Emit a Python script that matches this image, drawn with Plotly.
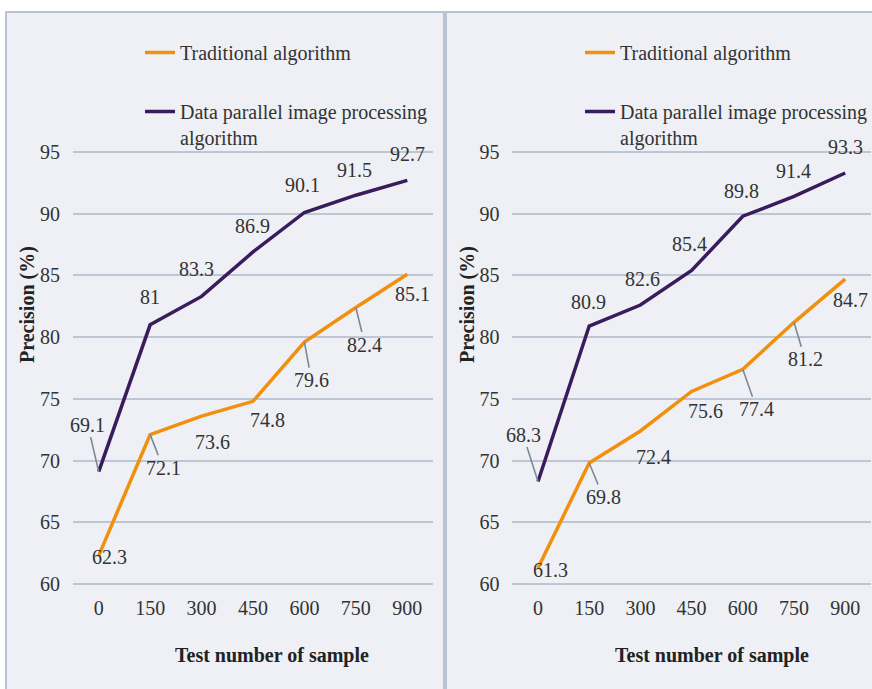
import plotly.graph_objects as go

# Test sample counts (category axis)
samples = ["0", "150", "300", "450", "600", "750", "900"]

# Panel 1 precision values (%)
left_traditional = [62.3, 72.1, 73.6, 74.8, 79.6, 82.4, 85.1]
left_parallel = [69.1, 81, 83.3, 86.9, 90.1, 91.5, 92.7]

# Panel 2 precision values (%)
right_traditional = [61.3, 69.8, 72.4, 75.6, 77.4, 81.2, 84.7]
right_parallel = [68.3, 80.9, 82.6, 85.4, 89.8, 91.4, 93.3]

series_names = ["Traditional algorithm", "Data parallel image processing<br>algorithm"]
y_ticks = [60, 65, 70, 75, 80, 85, 90, 95]

# Styling
W, H = 872, 689
ORANGE = "#f0900c"
PURPLE = "#3a1b5c"
GRID = "#bdc6d4"
PANEL_BG = "#eef0f5"
BORDER = "#bac3d0"
TEXT = "#333333"
LEADER = "#7b889a"
FONT = "Liberation Serif"
FS = 20

# Label offsets (px) from each point, and whether a leader line is drawn
left_trad_off = [(11, 1, False), (13, 33, True), (11, 26, False), (14, 19, False),
                 (7, 38, True), (9, 37, True), (5, 20, False)]
left_par_off = [(-11, -47, True), (0, -28, False), (-5, -27, False), (-1, -26, False),
                (-2, -27, False), (-1, -25, False), (0, -26, False)]
right_trad_off = [(12, 2, False), (14, 34, True), (13, 26, False), (14, 20, False),
                  (14, 40, True), (11, 37, True), (5, 21, False)]
right_par_off = [(-15, -47, True), (-1, -24, False), (2, -26, False), (-2, -26, False),
                 (-1, -25, False), (-1, -25, False), (0, -26, False)]

fig = go.Figure()

panels = [
    dict(xa="x", ya="y", trad=left_traditional, par=left_parallel,
         toff=left_trad_off, poff=left_par_off, legend="legend"),
    dict(xa="x2", ya="y2", trad=right_traditional, par=right_parallel,
         toff=right_trad_off, poff=right_par_off, legend="legend2"),
]

annotations = []
for p in panels:
    for name, vals, color, grp in [(series_names[0], p["trad"], ORANGE, "a"),
                                   (series_names[1], p["par"], PURPLE, "b")]:
        fig.add_trace(go.Scatter(
            x=samples, y=vals, mode="lines", name=name,
            line=dict(color=color, width=3.5),
            xaxis=p["xa"], yaxis=p["ya"], legend=p["legend"], legendgroup=grp,
            hoverinfo="skip",
        ))
    for vals, offs in [(p["trad"], p["toff"]), (p["par"], p["poff"])]:
        for i, (v, (dx, dy, lead)) in enumerate(zip(vals, offs)):
            a = dict(x=i, y=v, xref=p["xa"], yref=p["ya"], text=f"{v:g}",
                     font=dict(family=FONT, size=FS, color=TEXT))
            if lead:
                a.update(showarrow=True, ax=dx, ay=dy, arrowhead=0,
                         arrowwidth=1.6, arrowcolor=LEADER, standoff=0)
            else:
                a.update(showarrow=False, xshift=dx, yshift=-dy,
                         xanchor="center", yanchor="middle")
            annotations.append(a)

# Axis titles
for xc, yc_x in [(272, 28), (712, 468)]:
    annotations.append(dict(x=xc / W, y=1 - 655 / H, xref="paper", yref="paper",
                            xanchor="center", yanchor="middle",
                            text="<b>Test number of sample</b>", showarrow=False,
                            font=dict(family=FONT, size=FS, color="#222222")))
    annotations.append(dict(x=yc_x / W, y=1 - 305 / H, xref="paper", yref="paper",
                            xanchor="center", yanchor="middle",
                            text="<b>Precision (%)</b>", textangle=-90, showarrow=False,
                            font=dict(family=FONT, size=FS, color="#222222")))

# Panel backgrounds
shapes = [
    dict(type="rect", xref="paper", yref="paper", x0=6 / W, x1=444 / W,
         y0=-0.02, y1=1 - 12 / H, fillcolor=PANEL_BG,
         line=dict(color=BORDER, width=2), layer="below"),
    dict(type="rect", xref="paper", yref="paper", x0=446 / W, x1=1.02,
         y0=-0.02, y1=1 - 12 / H, fillcolor=PANEL_BG,
         line=dict(color=BORDER, width=2), layer="below"),
]

# Value range padded slightly so the 60 and 95 gridlines are drawn
y_range = [59.8, 95.2]
px_per_unit = (584 - 152) / 35
y_dom = [1 - (584 + 0.2 * px_per_unit) / H, 1 - (152 - 0.2 * px_per_unit) / H]

axis_common = dict(tickfont=dict(family=FONT, size=FS, color=TEXT), showline=False,
                   zeroline=False, automargin=False)
xcommon = dict(axis_common, type="category", range=[-0.5, 6.5], showgrid=False,
               ticks="", ticklabelstandoff=8)
ycommon = dict(axis_common, range=y_range, tickvals=y_ticks, showgrid=True,
               gridcolor=GRID, gridwidth=2, ticks="", ticklabelstandoff=12)

legend_common = dict(font=dict(family=FONT, size=FS, color=TEXT), bgcolor="rgba(0,0,0,0)",
                     xanchor="left", yanchor="top", tracegroupgap=30, valign="top",
                     traceorder="grouped")

fig.update_layout(
    width=W, height=H, margin=dict(l=0, r=0, t=0, b=0, autoexpand=False),
    paper_bgcolor="white", plot_bgcolor="rgba(0,0,0,0)",
    xaxis=dict(xcommon, domain=[73 / W, 433 / W], anchor="y"),
    yaxis=dict(ycommon, domain=y_dom, anchor="x"),
    xaxis2=dict(xcommon, domain=[512.4 / W, 870.8 / W], anchor="y2"),
    yaxis2=dict(ycommon, domain=y_dom, anchor="x2"),
    legend=dict(legend_common, x=140 / W, y=1 - 33 / H),
    legend2=dict(legend_common, x=580 / W, y=1 - 33 / H),
    annotations=annotations, shapes=shapes, showlegend=True,
)

fig.write_html("out.html")
